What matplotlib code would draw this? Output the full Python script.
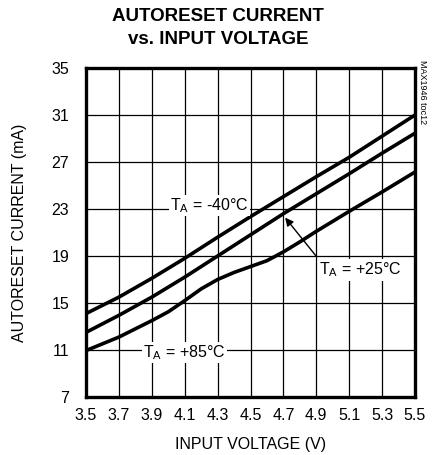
import numpy as np
import matplotlib.pyplot as plt
from matplotlib import font_manager

names = {f.name for f in font_manager.fontManager.ttflist}
fam = ['Liberation Sans Narrow'] if 'Liberation Sans Narrow' in names else ['Liberation Sans']
plt.rcParams['font.family'] = fam + ['DejaVu Sans']

# data
v = [3.5, 3.7, 3.9, 4.1, 4.3, 4.5, 4.7, 4.9, 5.1, 5.3, 5.5]
i_m40 = [14.1, 15.5, 17.1, 18.8, 20.6, 22.35, 24.05, 25.75, 27.4, 29.2, 31.0]
i_25 = [12.5, 13.95, 15.5, 17.2, 19.0, 20.8, 22.6, 24.3, 26.0, 27.75, 29.45]
v85 = [3.5, 3.7, 3.9, 4.0, 4.1, 4.2, 4.3, 4.4, 4.5, 4.6, 4.7, 4.8, 4.9, 5.1, 5.3, 5.5]
i_85 = [10.95, 12.1, 13.5, 14.25, 15.2, 16.2, 17.0, 17.6, 18.1, 18.6, 19.35, 20.2, 21.1, 22.8, 24.45, 26.15]

xticks = [3.5, 3.7, 3.9, 4.1, 4.3, 4.5, 4.7, 4.9, 5.1, 5.3, 5.5]
yticks = [7, 11, 15, 19, 23, 27, 31, 35]

fig = plt.figure(figsize=(4.36, 4.55), dpi=100)
ax = fig.add_axes([86/436, 1-397/455, 329/436, 329/455])

ax.plot(v, i_m40, color='black', lw=2.6, solid_capstyle='butt')
ax.plot(v, i_25, color='black', lw=2.6, solid_capstyle='butt')
ax.plot(v85, i_85, color='black', lw=2.6, solid_capstyle='butt')

ax.set_xlim(3.5, 5.5)
ax.set_ylim(7, 35)
ax.set_xticks(xticks)
ax.set_yticks(yticks)
ax.set_xticklabels([f'{t:.1f}' for t in xticks])
ax.grid(True, color='black', lw=0.9)
ax.tick_params(length=0, labelsize=11.5)
ax.tick_params(axis='x', pad=8)
ax.tick_params(axis='y', pad=12)
for s in ax.spines.values():
    s.set_linewidth(2.4)

box = dict(facecolor='white', edgecolor='none', pad=1)
ax.text(4.25, 23.3, 'T$_\\mathregular{A}$ = -40°C', ha='center', va='center', fontsize=11.5, bbox=box)
ax.text(4.1, 10.8, 'T$_\\mathregular{A}$ = +85°C', ha='center', va='center', fontsize=11.5, bbox=box)
ax.text(5.17, 17.8, 'T$_\\mathregular{A}$ = +25°C', ha='center', va='center', fontsize=11.5, bbox=box)
ax.annotate('', xy=(4.7, 22.45), xytext=(4.91, 18.8),
            arrowprops=dict(arrowstyle='-|>', color='black', lw=1.0, mutation_scale=12))

ax.set_xlabel('INPUT VOLTAGE (V)', fontsize=11.5, labelpad=10)
ax.set_ylabel('AUTORESET CURRENT (mA)', fontsize=11.5, labelpad=18)
fig.text(0.5, 1-8/455, 'AUTORESET CURRENT\nvs. INPUT VOLTAGE', ha='center', va='top',
         fontsize=13.5, fontweight='bold', linespacing=1.45)
fig.text(422/436, 1-60/455, 'MAX1946 toc12', rotation=270, ha='center', va='top', fontsize=6.5)

fig.savefig('out.png', dpi=100)
